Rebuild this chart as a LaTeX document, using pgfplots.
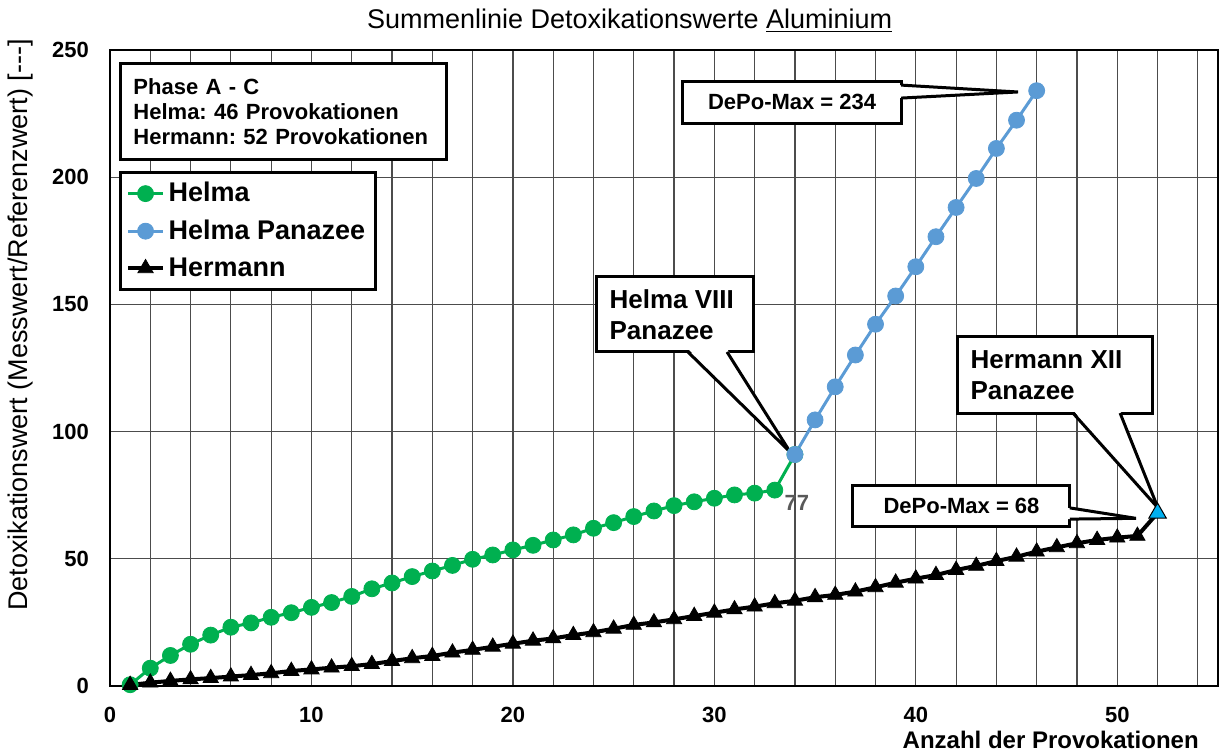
\documentclass[border=0pt]{standalone}
\usepackage{fontspec}
\setmainfont{Liberation Sans}
\usepackage{pgfplots}
\pgfplotsset{compat=1.18}
\definecolor{helma}{HTML}{00B050}
\definecolor{panazee}{HTML}{5B9BD5}
\definecolor{hermxii}{HTML}{00B0F0}
\definecolor{lbl}{HTML}{595959}
\newcommand{\fs}[2]{\fontsize{#1}{#2}\selectfont}
\frenchspacing

\begin{document}
\begin{tikzpicture}
\path[use as bounding box] (-55pt,-34pt) rectangle (556.5pt,343pt);
\begin{axis}[
  width=554pt, height=318pt, scale only axis,
  xmin=0, xmax=55, ymin=0, ymax=250,
  xtick={0,10,...,50}, minor xtick={2,4,...,54},
  ytick={0,50,...,250},
  grid=both,
  major grid style={line width=0.6pt, black!70},
  minor grid style={line width=0.6pt, black!70},
  major tick length=0pt, minor tick length=0pt,
  axis line style={line width=1.3pt},
  /pgf/number format/assume math mode=true,
  tick label style={font=\bfseries\fs{11}{13}},
  xticklabel style={yshift=-7pt},
  yticklabel style={xshift=-7pt},
  clip=false,
  legend cell align=left,
  legend style={at={(0.0081,0.810)}, anchor=north west, draw=black,
    line width=1.5pt, fill=white, font=\bfseries\fs{13.5}{16},
    row sep=3.5pt, inner xsep=3pt, inner ysep=3pt},
]
\addplot[color=helma, line width=1.5pt, mark=*, mark size=4pt,
  mark options={solid, fill=helma, draw=helma, line width=0.4pt}] coordinates {
(1,0.5)(2,7.0)(3,12.0)(4,16.4)(5,20.0)(6,23.1)(7,24.8)(8,27.0)(9,28.8)(10,30.9)
(11,32.8)(12,35.2)(13,38.2)(14,40.5)(15,43.0)(16,45.2)(17,47.4)(18,49.8)(19,51.5)(20,53.5)
(21,55.3)(22,57.4)(23,59.4)(24,62.0)(25,64.2)(26,66.6)(27,68.8)(28,70.9)(29,72.4)(30,73.8)
(31,75.1)(32,75.8)(33,77.0)(34,91.0)};
\addlegendentry{Helma}
\addplot[color=panazee, line width=1.5pt, mark=*, mark size=4pt,
  mark options={solid, fill=panazee, draw=panazee, line width=0.4pt}] coordinates {
(34,91.0)(35,104.6)(36,117.6)(37,130.1)(38,142.2)(39,153.3)(40,164.8)(41,176.6)
(42,188.1)(43,199.5)(44,211.3)(45,222.4)(46,234.0)};
\addlegendentry{Helma Panazee}
\addplot[color=black, line width=2pt, mark=triangle*, mark size=4.4pt,
  mark options={solid, fill=black, line width=0.4pt}] coordinates {
(1,0.4)(2,1.3)(3,2.0)(4,2.6)(5,3.1)(6,3.7)(7,4.3)(8,5.0)(9,5.9)(10,6.5)
(11,7.2)(12,7.8)(13,8.6)(14,9.8)(15,10.9)(16,11.8)(17,13.1)(18,14.2)(19,15.4)(20,16.6)
(21,17.8)(22,18.7)(23,20.0)(24,21.1)(25,22.5)(26,24.0)(27,25.0)(28,26.2)(29,27.5)(30,28.8)
(31,30.1)(32,31.2)(33,32.5)(34,33.5)(35,34.9)(36,35.8)(37,37.1)(38,38.8)(39,40.6)(40,42.2)
(41,43.6)(42,45.6)(43,47.2)(44,49.1)(45,50.8)(46,52.8)(47,54.5)(48,56.1)(49,57.4)(50,58.3)
(51,59.0)(52,68.0)};
\addlegendentry{Hermann}
\addplot[forget plot, only marks, mark=triangle*, mark size=5pt,
  mark options={fill=hermxii, draw=black, line width=0.5pt}] coordinates {(52,68.0)};

% info box
\node[draw, line width=1.5pt, fill=white, anchor=north west, align=left,
  text width=150pt, inner xsep=6.5pt, minimum height=48pt,
  font=\bfseries\fs{11}{12.5}] at (rel axis cs:0.0081,0.981)
  {Phase A - C\\Helma: 46 Provokationen\\Hermann: 52 Provokationen};

% callout Helma VIII
\draw[line width=1.5pt, fill=white] (axis cs:24.17,160.8) rectangle (axis cs:31.92,131.3);
\fill[white] (axis cs:28.69,132.5) -- (axis cs:33.76,92.0) -- (axis cs:30.63,132.5) -- cycle;
\draw[line width=1.5pt] (axis cs:28.69,131.3) -- (axis cs:33.76,92.0) -- (axis cs:30.63,131.3);
\node[anchor=west, align=left, font=\bfseries\fs{13}{15.5}] at (axis cs:24.45,146.0) {Helma VIII\\Panazee};

% callout Hermann XII
\draw[line width=1.5pt, fill=white] (axis cs:42.09,137.2) rectangle (axis cs:51.77,107.3);
\fill[white] (axis cs:47.80,108.5) -- (axis cs:52.02,70.0) -- (axis cs:50.14,108.5) -- cycle;
\draw[line width=1.5pt] (axis cs:47.80,107.3) -- (axis cs:52.02,70.0) -- (axis cs:50.14,107.3);
\node[anchor=west, align=left, font=\bfseries\fs{13}{15.5}] at (axis cs:42.37,122.2) {Hermann XII\\Panazee};

% callout DePo-Max 234
\draw[line width=1.5pt, fill=white] (axis cs:28.44,237.8) rectangle (axis cs:39.27,221.3);
\fill[white] (axis cs:39.1,236.2) -- (axis cs:45.07,233.5) -- (axis cs:39.1,231.1) -- cycle;
\draw[line width=1.5pt] (axis cs:39.27,236.2) -- (axis cs:45.07,233.5) -- (axis cs:39.27,231.1);
\node[font=\bfseries\fs{11}{13}] at (axis cs:33.86,229.5) {DePo-Max = 234};

% callout DePo-Max 68
\draw[line width=1.5pt, fill=white] (axis cs:36.88,79.0) rectangle (axis cs:47.65,62.5);
\fill[white] (axis cs:47.5,70.0) -- (axis cs:50.93,65.9) -- (axis cs:47.5,65.6) -- cycle;
\draw[line width=1.5pt] (axis cs:47.65,70.0) -- (axis cs:50.93,65.9) -- (axis cs:47.65,65.6);
\node[font=\bfseries\fs{11}{13}] at (axis cs:42.27,70.75) {DePo-Max = 68};

% data label
\node[font=\bfseries\fs{11}{13}, text=lbl] at (axis cs:34.1,71.9) {77};

% titles
\node[font=\fs{13.5}{16}] at (rel axis cs:0.469,1.046) {Summenlinie Detoxikationswerte \underline{Aluminium}};
\node[rotate=90, font=\fs{13.5}{16}] at (rel axis cs:-0.0812,0.5676) {Detoxikationswert (Messwert/Referenzwert) [-{}-{}-]};
\node[anchor=base east, font=\bfseries\fs{12}{14}] at (rel axis cs:0.989,-0.0975) {Anzahl der Provokationen};
\end{axis}
\end{tikzpicture}
\end{document}
